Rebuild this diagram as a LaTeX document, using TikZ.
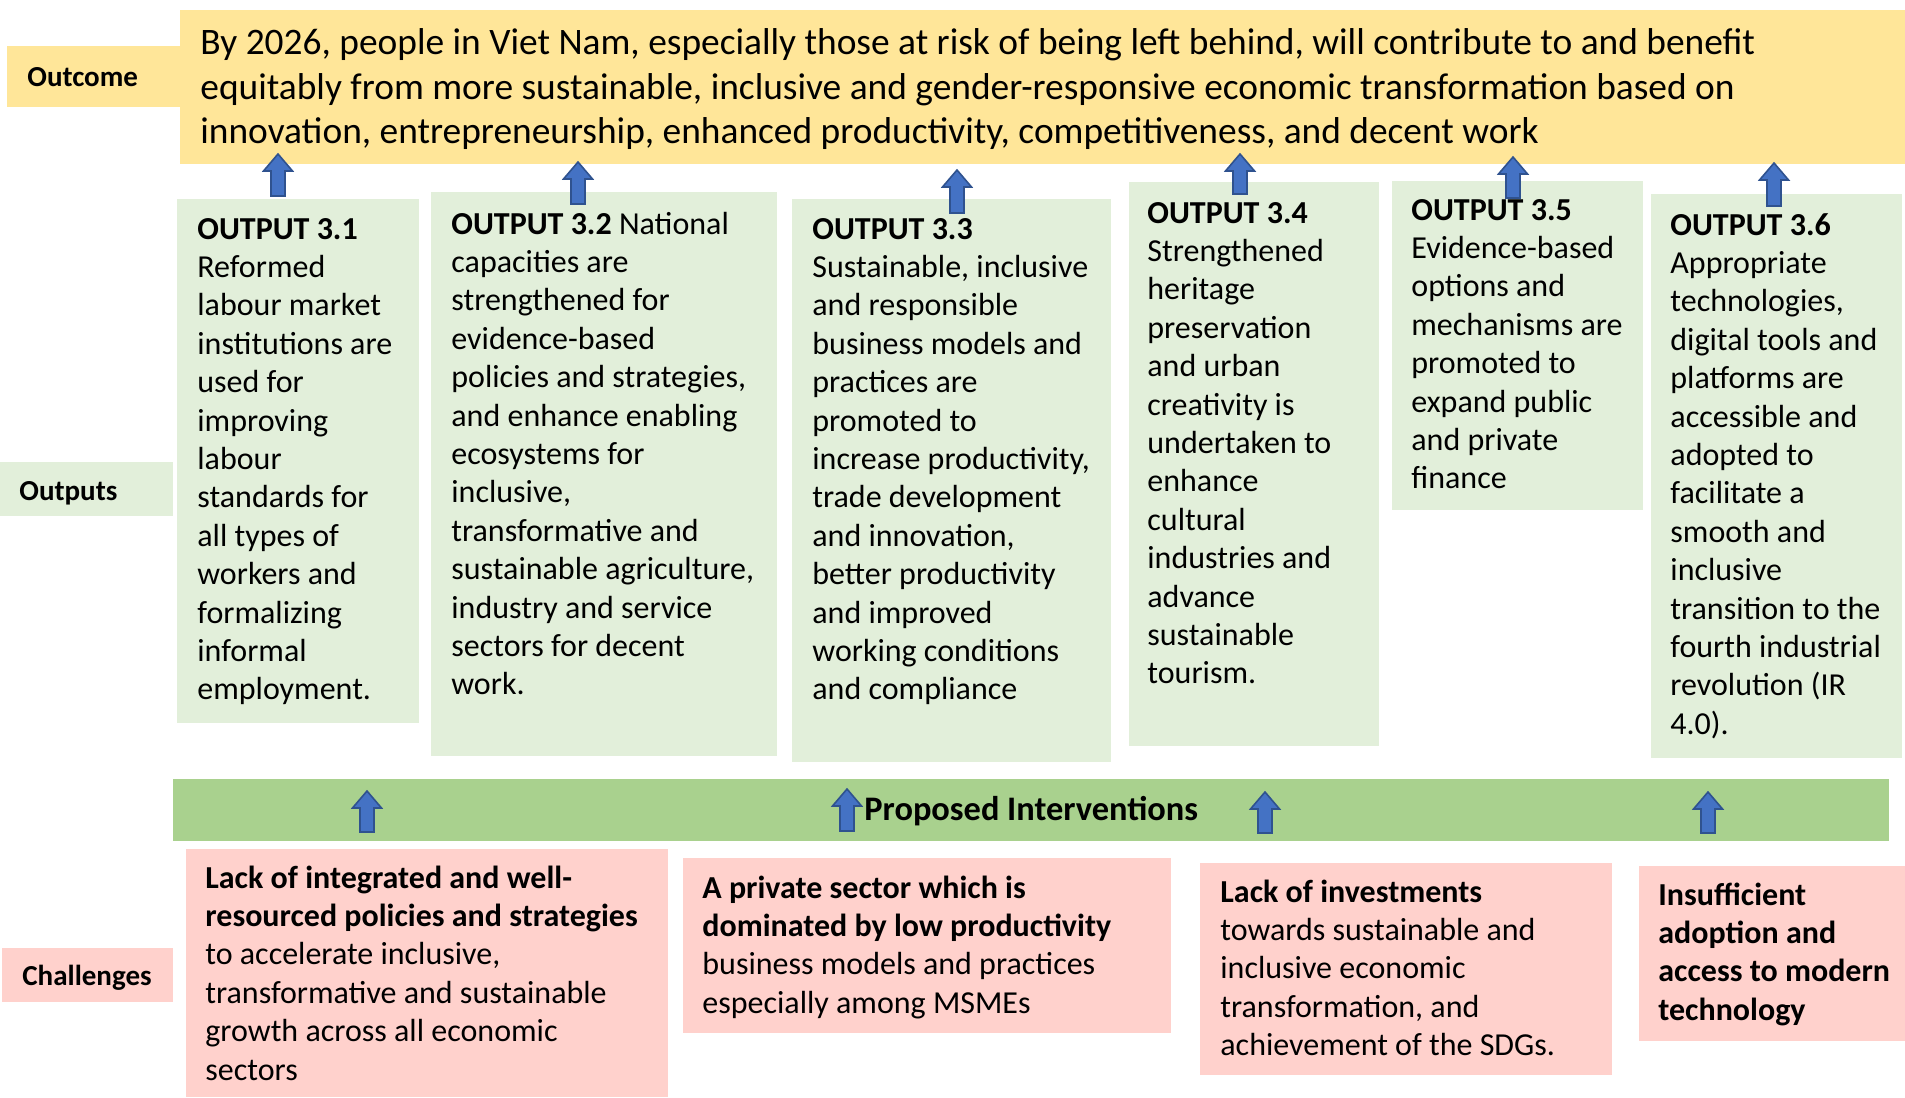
\documentclass[tikz,border=0pt]{standalone}
\usepackage{fontspec}
\setmainfont{Carlito}
\definecolor{outyellow}{HTML}{FFE699}
\definecolor{outgreen}{HTML}{E2EFDA}
\definecolor{bandgreen}{HTML}{A9D18E}
\definecolor{chpink}{HTML}{FFD1CC}
\definecolor{arrowfill}{HTML}{4472C4}
\definecolor{arrowline}{HTML}{2F528F}

% block arrow pointing up: centre x, tip y, bottom y
\newcommand{\blockup}[3]{%
  \filldraw[fill=arrowfill,draw=arrowline,line width=0.8pt,line join=miter]
    (#1-7,#3) -- (#1-7,#2+17) -- (#1-14.5,#2+17) -- (#1,#2)
    -- (#1+14.5,#2+17) -- (#1+7,#2+17) -- (#1+7,#3) -- cycle;}

\begin{document}
\begin{tikzpicture}
[x=0.5pt,y=-0.5pt,
txt/.style={anchor=base west,inner sep=0pt,align=left,font=\fontsize{16}{19.2}\selectfont},
bigtxt/.style={txt,font=\fontsize{18.7}{22.2}\selectfont},
lbl/.style={anchor=base west,inner sep=0pt,font=\fontsize{14.5}{17}\selectfont\bfseries},
]
\useasboundingbox (0,0) rectangle (1905,1097);
% text nodes sit on the baseline of their last line (38.4 px a line)

% outcome
\fill[outyellow] (7,46) rectangle (180,107);
\fill[outyellow] (180,10) rectangle (1905,164);
\node[lbl] (outcomelbl) at (27,87) {Outcome};
\node[bigtxt] (outcome) at (200,{55+2*44.4}) {By 2026, people in Viet Nam, especially those at risk of being left behind, will contribute to and benefit\\
equitably from more sustainable, inclusive and gender-responsive economic transformation based on\\
innovation, entrepreneurship, enhanced productivity, competitiveness, and decent work};

% outputs
\fill[outgreen] (0,462) rectangle (173,516);
\node[lbl] (outputslbl) at (19,500) {Outputs};

\fill[outgreen] (177,199) rectangle (419,723);
\fill[outgreen] (431,192) rectangle (777,756);
\fill[outgreen] (792,199) rectangle (1111,762);
\fill[outgreen] (1129,182) rectangle (1379,746);
\fill[outgreen] (1392,181) rectangle (1643,510);
\fill[outgreen] (1651,194) rectangle (1902,758);

\node[txt] (o31) at (197,{239+12*38.4}) {\textbf{OUTPUT 3.1}\\Reformed\\labour market\\institutions are\\used for\\improving\\labour\\standards for\\all types of\\workers and\\formalizing\\informal\\employment.};
\node[txt] (o32) at (451,{234+12*38.4}) {\textbf{OUTPUT 3.2} National\\capacities are\\strengthened for\\evidence-based\\policies and strategies,\\and enhance enabling\\ecosystems for\\inclusive,\\transformative and\\sustainable agriculture,\\industry and service\\sectors for decent\\work.};
\node[txt] (o33) at (812,{239+12*38.4}) {\textbf{OUTPUT 3.3}\\Sustainable, inclusive\\and responsible\\business models and\\practices are\\promoted to\\increase productivity,\\trade development\\and innovation,\\better productivity\\and improved\\working conditions\\and compliance};
\node[txt] (o34) at (1147,{223+12*38.4}) {\textbf{OUTPUT 3.4}\\Strengthened\\heritage\\preservation\\and urban\\creativity is\\undertaken to\\enhance\\cultural\\industries and\\advance\\sustainable\\tourism.};
\node[txt] (o35) at (1411,{220+7*38.4}) {\textbf{OUTPUT 3.5}\\Evidence-based\\options and\\mechanisms are\\promoted to\\expand public\\and private\\finance};
\node[txt] (o36) at (1670,{235+13*38.4}) {\textbf{OUTPUT 3.6}\\Appropriate\\technologies,\\digital tools and\\platforms are\\accessible and\\adopted to\\facilitate a\\smooth and\\inclusive\\transition to the\\fourth industrial\\revolution (IR\\4.0).};

\blockup{278}{154}{196}
\blockup{578}{162}{204}
\blockup{957}{170}{213}
\blockup{1240}{154}{194}
\blockup{1513}{157}{198}
\blockup{1774}{163}{206}

% interventions band
\fill[bandgreen] (173,779) rectangle (1889,841);
\node[lbl,font=\fontsize{17.2}{20}\selectfont\bfseries] (interv) at (864,820) {Proposed Interventions};
\blockup{367}{791}{832}
\blockup{847}{789}{831}
\blockup{1265}{792}{833}
\blockup{1708}{792}{833}

% challenges
\fill[chpink] (2,948) rectangle (173,1002);
\node[lbl] (challlbl) at (22,985) {Challenges};

\fill[chpink] (186,849) rectangle (668,1097);
\fill[chpink] (683,858) rectangle (1171,1033);
\fill[chpink] (1200,863) rectangle (1612,1075);
\fill[chpink] (1639,866) rectangle (1905,1041);

\node[txt] (c1) at (205,{888+5*38.4}) {\textbf{Lack of integrated and well-}\\\textbf{resourced policies and strategies}\\to accelerate inclusive,\\transformative and sustainable\\growth across all economic\\sectors};
\node[txt] (c2) at (702,{898+3*38.4}) {\textbf{A private sector which is}\\\textbf{dominated by low productivity}\\business models and practices\\especially among MSMEs};
\node[txt] (c3) at (1220,{902+4*38.4}) {\textbf{Lack of investments}\\towards sustainable and\\inclusive economic\\transformation, and\\achievement of the SDGs.};
\node[txt] (c4) at (1658,{905+3*38.4}) {\textbf{Insufficient}\\\textbf{adoption and}\\\textbf{access to modern}\\\textbf{technology}};
\end{tikzpicture}
\end{document}
